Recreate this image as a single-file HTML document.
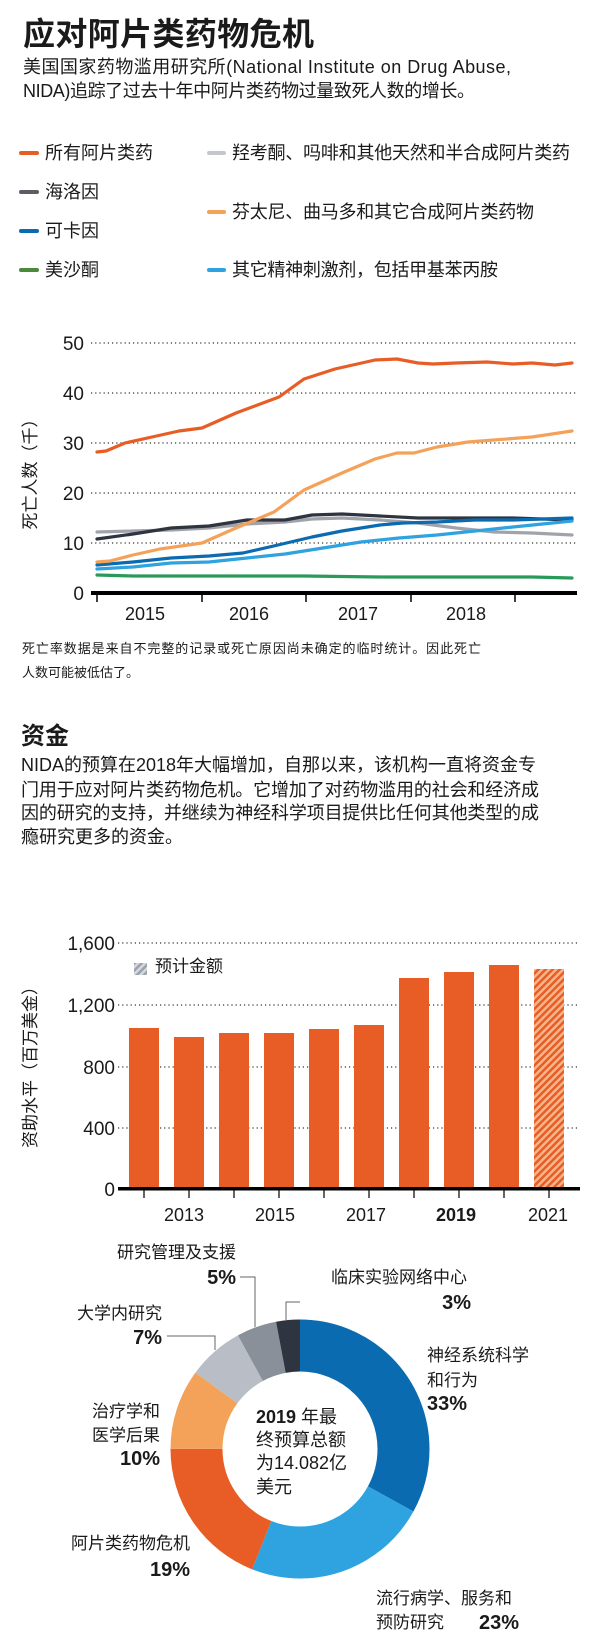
<!DOCTYPE html>
<html><head><meta charset="utf-8"><style>
html,body{margin:0;padding:0;background:#fff;}
svg{display:block;}
text{font-family:"Liberation Sans","Noto Sans CJK SC",sans-serif;fill:#1a1a1a;}
.b{font-weight:bold;}
</style></head><body>
<svg width="600" height="1650" viewBox="0 0 600 1650" xmlns="http://www.w3.org/2000/svg">
<defs>
<pattern id="h" patternUnits="userSpaceOnUse" width="5" height="5" patternTransform="rotate(45)">
<rect width="5" height="5" fill="#f6b58a"/><rect width="2.5" height="5" fill="#e85d25"/></pattern>
<pattern id="hg" patternUnits="userSpaceOnUse" width="5" height="5" patternTransform="rotate(45)">
<rect width="5" height="5" fill="#d5d9de"/><rect width="2.5" height="5" fill="#9aa2ab"/></pattern>
</defs>
<text x="23" y="45" font-size="32" class="b" textLength="291">应对阿片类药物危机</text>
<text x="23" y="73" font-size="18" textLength="488">美国国家药物滥用研究所(National Institute on Drug Abuse,</text>
<text x="23" y="97" font-size="18" textLength="452">NIDA)追踪了过去十年中阿片类药物过量致死人数的增长。</text>
<g stroke-width="4" stroke-linecap="round">
<line x1="21" y1="153" x2="37" y2="153" stroke="#e85d25"/>
<line x1="21" y1="192" x2="37" y2="192" stroke="#5a5f66"/>
<line x1="21" y1="231" x2="37" y2="231" stroke="#0a6bb0"/>
<line x1="21" y1="270" x2="37" y2="270" stroke="#4a8a3a"/>
<line x1="209" y1="153" x2="224" y2="153" stroke="#c4c8cc"/>
<line x1="209" y1="212" x2="224" y2="212" stroke="#f4a259"/>
<line x1="209" y1="270" x2="224" y2="270" stroke="#2ea3e0"/>
</g>
<g font-size="18">
<text x="45" y="159">所有阿片类药</text>
<text x="45" y="198">海洛因</text>
<text x="45" y="237">可卡因</text>
<text x="45" y="276">美沙酮</text>
<text x="232" y="159" textLength="338">羟考酮、吗啡和其他天然和半合成阿片类药</text>
<text x="232" y="218" textLength="302">芬太尼、曲马多和其它合成阿片类药物</text>
<text x="232" y="276" textLength="266">其它精神刺激剂，包括甲基苯丙胺</text>
</g>
<g stroke="#333" stroke-width="1.2" stroke-dasharray="1.2 3">
<line x1="91" y1="343" x2="578" y2="343"/><line x1="91" y1="393" x2="578" y2="393"/>
<line x1="91" y1="443" x2="578" y2="443"/><line x1="91" y1="493" x2="578" y2="493"/>
<line x1="91" y1="543" x2="578" y2="543"/>
</g>
<g font-size="19" text-anchor="end">
<text x="84" y="350">50</text><text x="84" y="400">40</text><text x="84" y="450">30</text>
<text x="84" y="500">20</text><text x="84" y="550">10</text><text x="84" y="600">0</text>
</g>
<text transform="translate(36,470) rotate(-90)" font-size="17" text-anchor="middle">死亡人数（千）</text>
<g fill="none" stroke-width="3.2" stroke-linejoin="round" stroke-linecap="round">
<polyline stroke="#2a9a5a" points="97,575 133,576 209,576 304,576 380,577 456,577 532,577 572,578"/>
<polyline stroke="#a0a4aa" points="97,532 133,531 171,530 209,528 247,524 285,522 312,519 342,518 380,520 418,523 456,528 494,532 532,533 572,535"/>
<polyline stroke="#2e3440" points="97,539 133,534 171,528 209,526 247,520 285,520 312,515 342,514 380,516 418,518 456,518 513,518 572,520"/>
<polyline stroke="#2ea3e0" points="97,569 133,567 171,563 209,562 247,558 285,554 323,548 361,542 399,538 437,535 475,531 513,527 572,521"/>
<polyline stroke="#0a6bb0" points="97,565 133,562 171,558 209,556 243,553 278,545 312,537 342,531 380,525 403,523 437,522 475,520 513,520 572,518"/>
<polyline stroke="#f4a259" points="97,562 110,561 133,555 160,549 202,543 236,528 274,512 304,490 342,473 375,459 397,453 414,453 437,447 468,442 494,440 532,437 572,431"/>
<polyline stroke="#e85d25" points="97,452 106,451 125,443 152,437 179,431 202,428 236,413 279,397 304,379 335,369 375,360 397,359 418,363 433,364 456,363 487,362 513,364 532,363 555,365 572,363"/>
</g>
<rect x="91" y="591" width="486" height="4" fill="#000"/>
<g stroke="#000" stroke-width="1.5">
<line x1="97" y1="593" x2="97" y2="602"/><line x1="202" y1="593" x2="202" y2="602"/>
<line x1="306" y1="593" x2="306" y2="602"/><line x1="411" y1="593" x2="411" y2="602"/>
<line x1="515" y1="593" x2="515" y2="602"/>
</g>
<g font-size="18" text-anchor="middle">
<text x="145" y="620">2015</text><text x="249" y="620">2016</text>
<text x="358" y="620">2017</text><text x="466" y="620">2018</text>
</g>
<g font-size="13" fill="#333">
<text x="22" y="653" textLength="459">死亡率数据是来自不完整的记录或死亡原因尚未确定的临时统计。因此死亡</text>
<text x="22" y="677">人数可能被低估了。</text>
</g>
<text x="21" y="744" font-size="24" class="b">资金</text>
<g font-size="18">
<text x="21" y="771" textLength="515">NIDA的预算在2018年大幅增加，自那以来，该机构一直将资金专</text>
<text x="21" y="796" textLength="518">门用于应对阿片类药物危机。它增加了对药物滥用的社会和经济成</text>
<text x="21" y="819" textLength="518">因的研究的支持，并继续为神经科学项目提供比任何其他类型的成</text>
<text x="21" y="843">瘾研究更多的资金。</text>
</g>
<g stroke="#333" stroke-width="1.2" stroke-dasharray="1.2 3">
<line x1="118" y1="943" x2="580" y2="943"/><line x1="118" y1="1005" x2="580" y2="1005"/>
<line x1="118" y1="1067" x2="580" y2="1067"/><line x1="118" y1="1128" x2="580" y2="1128"/>
</g>
<g font-size="19" text-anchor="end">
<text x="115" y="950">1,600</text><text x="115" y="1012">1,200</text>
<text x="115" y="1074">800</text><text x="115" y="1135">400</text><text x="115" y="1196">0</text>
</g>
<text transform="translate(36,1063) rotate(-90)" font-size="17" text-anchor="middle">资助水平（百万美金）</text>
<g fill="#e85d25">
<rect x="129" y="1028" width="30" height="161"/>
<rect x="174" y="1037" width="30" height="152"/>
<rect x="219" y="1033" width="30" height="156"/>
<rect x="264" y="1033" width="30" height="156"/>
<rect x="309" y="1029" width="30" height="160"/>
<rect x="354" y="1025" width="30" height="164"/>
<rect x="399" y="978" width="30" height="211"/>
<rect x="444" y="972" width="30" height="217"/>
<rect x="489" y="965" width="30" height="224"/>
</g>
<rect x="534" y="969" width="30" height="220" fill="url(#h)"/>
<rect x="134" y="963" width="13" height="12" fill="url(#hg)"/>
<text x="155" y="972" font-size="17">预计金额</text>
<rect x="118" y="1187" width="462" height="3.5" fill="#000"/>
<g stroke="#000" stroke-width="1.2">
<line x1="144" y1="1189" x2="144" y2="1198"/><line x1="189" y1="1189" x2="189" y2="1198"/>
<line x1="234" y1="1189" x2="234" y2="1198"/><line x1="279" y1="1189" x2="279" y2="1198"/>
<line x1="324" y1="1189" x2="324" y2="1198"/><line x1="369" y1="1189" x2="369" y2="1198"/>
<line x1="414" y1="1189" x2="414" y2="1198"/><line x1="459" y1="1189" x2="459" y2="1198"/>
<line x1="504" y1="1189" x2="504" y2="1198"/><line x1="549" y1="1189" x2="549" y2="1198"/>
</g>
<g font-size="18" text-anchor="middle">
<text x="184" y="1221">2013</text><text x="275" y="1221">2015</text>
<text x="366" y="1221">2017</text><text x="456" y="1221" class="b">2019</text>
<text x="548" y="1221">2021</text>
</g>
<g transform="translate(300,1449) rotate(-90)" fill="none" stroke-width="52">
<circle r="103.5" stroke="#0a6bb0" stroke-dasharray="214.6 650.3" stroke-dashoffset="0"/>
<circle r="103.5" stroke="#2ea3e0" stroke-dasharray="149.6 650.3" stroke-dashoffset="-214.6"/>
<circle r="103.5" stroke="#e85d25" stroke-dasharray="123.6 650.3" stroke-dashoffset="-364.2"/>
<circle r="103.5" stroke="#f4a259" stroke-dasharray="65 650.3" stroke-dashoffset="-487.8"/>
<circle r="103.5" stroke="#b9bec6" stroke-dasharray="45.5 650.3" stroke-dashoffset="-552.8"/>
<circle r="103.5" stroke="#8a9099" stroke-dasharray="32.5 650.3" stroke-dashoffset="-598.3"/>
<circle r="103.5" stroke="#2e3440" stroke-dasharray="19.5 650.3" stroke-dashoffset="-630.8"/>
</g>
<g fill="none" stroke="#666" stroke-width="1">
<polyline points="240,1277 255,1277 255,1327"/>
<polyline points="300,1302 286,1302 286,1320"/>
<polyline points="167,1336 215,1336 215,1350"/>
</g>
<g font-size="17">
<text x="236" y="1258" text-anchor="end">研究管理及支援</text>
<text x="236" y="1284" text-anchor="end" class="b" font-size="20">5%</text>
<text x="331" y="1283">临床实验网络中心</text>
<text x="471" y="1309" text-anchor="end" class="b" font-size="20">3%</text>
<text x="162" y="1319" text-anchor="end">大学内研究</text>
<text x="162" y="1344" text-anchor="end" class="b" font-size="20">7%</text>
<text x="427" y="1361">神经系统科学</text>
<text x="427" y="1386">和行为</text>
<text x="427" y="1410" class="b" font-size="20">33%</text>
<text x="160" y="1417" text-anchor="end">治疗学和</text>
<text x="160" y="1441" text-anchor="end">医学后果</text>
<text x="160" y="1465" text-anchor="end" class="b" font-size="20">10%</text>
<text x="190" y="1549" text-anchor="end">阿片类药物危机</text>
<text x="190" y="1576" text-anchor="end" class="b" font-size="20">19%</text>
<text x="376" y="1604">流行病学、服务和</text>
<text x="376" y="1628">预防研究</text>
<text x="519" y="1629" text-anchor="end" class="b" font-size="20">23%</text>
</g>
<g font-size="18">
<text x="256" y="1423"><tspan class="b">2019</tspan> 年最</text>
<text x="256" y="1446">终预算总额</text>
<text x="256" y="1469">为14.082亿</text>
<text x="256" y="1493">美元</text>
</g>
</svg>
</body></html>
